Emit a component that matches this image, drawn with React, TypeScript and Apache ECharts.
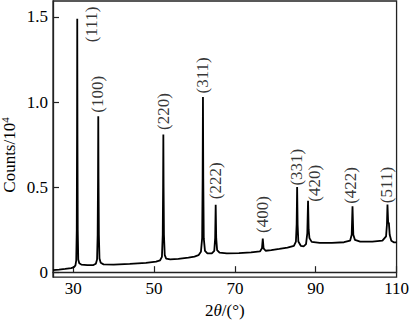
import React, { useEffect, useRef } from "react";
import * as echarts from "echarts";

// Tick values
const xTicks = [30, 50, 70, 90, 110];
const yTicks = [0, 0.5, 1.0, 1.5];

// Indexed reflections
const hklLabels = ["(111)", "(100)", "(220)", "(311)", "(222)", "(400)", "(331)", "(420)", "(422)", "(511)"];
const peakTheta = [31.0, 36.2, 52.3, 62.1, 65.25, 76.9, 85.4, 88.1, 99.1, 107.75];
const peakCounts = [1.49, 0.917, 0.81, 1.03, 0.397, 0.198, 0.5, 0.42, 0.387, 0.397];

// Diffraction profile: [2θ, counts / 10^4]
const profile: [number, number][] = [
  [25.0, 0.012], [26.5, 0.015], [28.0, 0.019], [29.5, 0.024], [30.2, 0.03], [30.55, 0.04],
  [30.75, 0.07], [30.88, 0.25], [30.95, 0.8], [31.0, 1.49], [31.05, 0.8], [31.12, 0.25],
  [31.25, 0.075], [31.5, 0.052], [32.0, 0.045], [33.5, 0.041], [35.0, 0.042], [35.6, 0.05],
  [35.9, 0.075], [36.05, 0.22], [36.14, 0.55], [36.2, 0.917], [36.26, 0.55], [36.35, 0.22],
  [36.5, 0.08], [36.8, 0.055], [37.5, 0.046], [40.0, 0.045], [44.0, 0.049], [48.0, 0.055],
  [50.5, 0.062], [51.5, 0.07], [51.95, 0.09], [52.15, 0.22], [52.24, 0.5], [52.3, 0.81],
  [52.36, 0.5], [52.45, 0.22], [52.65, 0.1], [53.0, 0.08], [54.0, 0.075], [56.0, 0.078],
  [58.5, 0.085], [60.0, 0.092], [61.0, 0.1], [61.6, 0.12], [61.9, 0.2], [62.02, 0.55],
  [62.1, 1.03], [62.18, 0.55], [62.3, 0.2], [62.6, 0.125], [63.2, 0.11], [64.3, 0.11],
  [64.9, 0.125], [65.12, 0.2], [65.25, 0.397], [65.38, 0.2], [65.6, 0.13], [66.2, 0.115],
  [68.0, 0.11], [71.0, 0.112], [74.0, 0.116], [76.2, 0.122], [76.7, 0.14], [76.9, 0.198],
  [77.1, 0.14], [77.6, 0.126], [79.0, 0.13], [81.0, 0.137], [83.0, 0.145], [84.6, 0.155],
  [85.1, 0.18], [85.28, 0.28], [85.4, 0.5], [85.52, 0.28], [85.7, 0.18], [86.3, 0.155],
  [87.0, 0.152], [87.6, 0.165], [87.92, 0.23], [88.1, 0.42], [88.25, 0.25], [88.45, 0.2],
  [89.0, 0.178], [91.0, 0.172], [94.0, 0.172], [97.0, 0.176], [98.5, 0.185], [98.9, 0.22],
  [99.1, 0.387], [99.3, 0.22], [99.7, 0.19], [101.0, 0.18], [104.0, 0.18], [106.5, 0.185],
  [107.4, 0.21], [107.62, 0.28], [107.75, 0.397], [107.92, 0.29], [108.1, 0.29], [108.3, 0.22],
  [108.7, 0.185], [109.3, 0.176], [110.0, 0.175],
];

const FONT = "'Liberation Serif', 'Times New Roman', serif";

// pixel placement of each hkl label relative to its peak apex (styling, not data)
const labelShift: Record<string, [number, number]> = {
  "(111)": [15, 24],
  "(100)": [0, -3],
  "(220)": [0.7, -4],
  "(311)": [0, -3],
  "(222)": [0.8, -5],
  "(400)": [0, -5],
  "(331)": [0, -1],
  "(420)": [6.5, 1.5],
  "(422)": [-1.5, -2],
  "(511)": [0, -1],
};

export default function App() {
  const ref = useRef<HTMLDivElement>(null);

  useEffect(() => {
    if (!ref.current) return;
    const chart = echarts.init(ref.current, null, { renderer: "svg" });

    const peakItems = hklLabels.map((name, i) => ({
      name,
      value: [peakTheta[i], peakCounts[i]],
      label: { position: labelShift[name] || [0, -3] },
    }));

    const option: any = {
      animation: false,
      backgroundColor: "#fff",
      textStyle: { fontFamily: FONT },
      grid: {
        left: 53,
        right: 9,
        top: 1,
        bottom: 42,
        show: true,
        borderColor: "#222",
        borderWidth: 1.3,
        backgroundColor: "transparent",
      },
      xAxis: {
        type: "value",
        min: 25,
        max: 110,
        name: "{a|2}{i|θ}{a|/(°)}",
        nameLocation: "middle",
        nameGap: 21,
        nameTextStyle: {
          rich: {
            a: { fontFamily: FONT, fontSize: 17, color: "#000" },
            i: { fontFamily: FONT, fontSize: 17, fontStyle: "italic", color: "#000" },
          },
        },
        splitLine: { show: false },
        axisLine: { show: true, lineStyle: { color: "#222", width: 1.3 } },
        axisTick: {
          show: true,
          inside: true,
          length: 6,
          customValues: xTicks,
          lineStyle: { color: "#222", width: 1.2 },
        },
        axisLabel: {
          customValues: xTicks,
          margin: 3,
          fontFamily: FONT,
          fontSize: 17,
          color: "#000",
          showMinLabel: true,
          showMaxLabel: true,
        },
      },
      yAxis: {
        type: "value",
        min: -0.0289,
        max: 1.594,
        splitLine: { show: false },
        axisLine: { show: true, lineStyle: { color: "#222", width: 1.3 } },
        axisTick: {
          show: true,
          inside: true,
          length: 6,
          customValues: yTicks,
          lineStyle: { color: "#222", width: 1.2 },
        },
        axisLabel: {
          customValues: yTicks,
          margin: 5,
          fontFamily: FONT,
          fontSize: 17,
          color: "#000",
          formatter: (v: number) => (v === 0 ? "0" : v.toFixed(1)),
        },
      },
      graphic: [
        {
          type: "text",
          x: 9,
          y: 155,
          rotation: Math.PI / 2,
          style: {
            text: "{a|Counts/10}{b|4}",
            align: "center",
            verticalAlign: "middle",
            rich: {
              a: { fontFamily: FONT, fontSize: 17, lineHeight: 20, fill: "#000" },
              b: { fontFamily: FONT, fontSize: 11, lineHeight: 11, verticalAlign: "top", fill: "#000" },
            },
          },
        },
      ],
      series: [
        {
          type: "line",
          data: profile,
          showSymbol: false,
          symbol: "none",
          lineStyle: { color: "#000", width: 1.8 },
          z: 3,
        },
        {
          type: "scatter",
          data: peakItems,
          symbolSize: 1,
          itemStyle: { color: "rgba(0,0,0,0)" },
          z: 4,
          label: {
            show: true,
            formatter: (p: any) => p.name,
            rotate: 90,
            align: "left",
            verticalAlign: "middle",
            fontFamily: FONT,
            fontSize: 17,
            color: "#000",
          },
        },
      ],
    };

    chart.setOption(option);
    return () => chart.dispose();
  }, []);

  return (
    <div
      ref={ref}
      style={{ position: "fixed", left: 0, top: 0, width: 412, height: 324, background: "#fff" }}
    />
  );
}
